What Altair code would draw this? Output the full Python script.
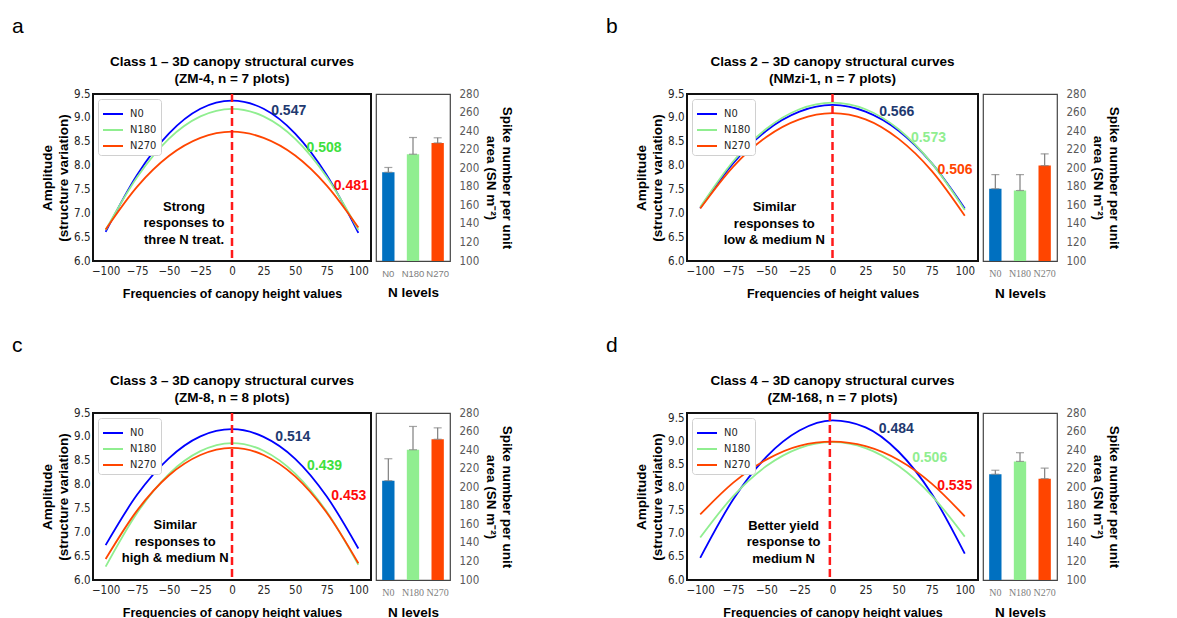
import altair as alt
import pandas as pd

# ---------------- data ----------------
X_POS = [-100, -75, -50, -25, 0, 25, 50, 75, 100]
SERIES = ["N0", "N180", "N270"]

A_N0 = [6.61, 7.81, 8.67, 9.19, 9.36, 9.19, 8.67, 7.80, 6.59]
A_N180 = [6.65, 7.76, 8.56, 9.03, 9.19, 9.03, 8.56, 7.76, 6.65]
A_N270 = [6.66, 7.56, 8.20, 8.58, 8.71, 8.58, 8.21, 7.58, 6.70]

B_N0 = [7.11, 8.05, 8.73, 9.13, 9.27, 9.13, 8.73, 8.05, 7.10]
B_N180 = [7.13, 8.09, 8.77, 9.18, 9.32, 9.18, 8.76, 8.05, 7.07]
B_N270 = [7.10, 7.98, 8.60, 8.97, 9.10, 8.97, 8.56, 7.89, 6.95]

C_N0 = [6.73, 7.79, 8.55, 9.01, 9.16, 9.00, 8.54, 7.75, 6.66]
C_N180 = [6.28, 7.41, 8.22, 8.70, 8.87, 8.71, 8.23, 7.43, 6.32]
C_N270 = [6.44, 7.46, 8.19, 8.62, 8.77, 8.62, 8.17, 7.41, 6.35]

D_N0 = [6.48, 7.75, 8.67, 9.24, 9.46, 9.31, 8.78, 7.87, 6.57]
D_N180 = [6.92, 7.82, 8.47, 8.86, 8.99, 8.86, 8.47, 7.83, 6.94]
D_N270 = [7.42, 8.11, 8.61, 8.91, 9.00, 8.90, 8.60, 8.09, 7.38]

# spike number per unit area (bar means and upper error)
BAR_A = [195.6, 215.1, 227.3]
ERR_A = [5.2, 18.0, 5.5]
BAR_B = [177.9, 176.0, 202.9]
ERR_B = [15.2, 17.1, 12.6]
BAR_C = [207.1, 240.4, 251.7]
ERR_C = [23.6, 25.1, 12.3]
BAR_D = [214.0, 227.8, 209.2]
ERR_D = [4.3, 9.4, 11.3]

# values printed on the curves
VAL_A = ["0.547", "0.508", "0.481"]
VAL_B = ["0.566", "0.573", "0.506"]
VAL_C = ["0.514", "0.439", "0.453"]
VAL_D = ["0.484", "0.506", "0.535"]
# label anchor points in data coordinates (x, amplitude)
VX_A, VY_A = [31, 59, 80.5], [9.15, 8.36, 7.58]
VX_B, VY_B = [35.3, 59.3, 79.4], [9.13, 8.58, 7.90]
VX_C, VY_C = [34.3, 59.4, 78.6], [9.00, 8.385, 7.77]
VX_D, VY_D = [35.0, 60.2, 79.1], [9.28, 8.65, 8.04]

NOTE_A = "Strong\nresponses to\nthree N treat."
NOTE_B = "Similar\nresponses to\nlow & medium N"
NOTE_C = "Similar\nresponses to\nhigh & medium N"
NOTE_D = "Better yield\nresponse to\nmedium N"
# first-line anchor of each note (x, amplitude)
NOTE_XY = {"a": (-38, 7.14), "b": (-44, 7.13), "c": (-45, 7.15), "d": (-37, 7.18)}

TITLES = {
    "a": "Class 1 \u2013 3D canopy structural curves\n(ZM-4, n = 7 plots)",
    "b": "Class 2 \u2013 3D canopy structural curves\n(NMzi-1, n = 7 plots)",
    "c": "Class 3 \u2013 3D canopy structural curves\n(ZM-8, n = 8 plots)",
    "d": "Class 4 \u2013 3D canopy structural curves\n(ZM-168, n = 7 plots)",
}
XTITLES = {
    "a": "Frequencies of canopy height values",
    "b": "Frequencies of height values",
    "c": "Frequencies of canopy height values",
    "d": "Frequencies of canopy height values",
}
PEAK_LINE = {"a": 0, "b": 0, "c": 0, "d": -2}
YDOM = {"a": [6.0, 9.5], "b": [6.0, 9.5], "c": [6.0, 9.5], "d": [6.0, 9.62]}

LINE_COLORS = ["#0000FF", "#90EE90", "#FF4500"]
BAR_COLORS = ["#0070C0", "#90EE90", "#FF4500"]
NAVY = "#1F3A70"
LABEL_COLORS = {
    "a": [NAVY, "#3EE03E", "#FF0A0A"],
    "b": [NAVY, "#90EE90", "#FF4500"],
    "c": [NAVY, "#3EE03E", "#FF0A0A"],
    "d": [NAVY, "#90EE90", "#FF0A0A"],
}

SANS = "Liberation Sans"
NARROW = "Liberation Sans Narrow, DejaVu Sans Condensed, Liberation Sans"
SERIF = "Liberation Serif"

Y_TICKS = [6.0, 6.5, 7.0, 7.5, 8.0, 8.5, 9.0, 9.5]
X_TICKS = [-100, -75, -50, -25, 0, 25, 50, 75, 100]
BAR_TICKS = list(range(100, 281, 20))


def line_panel(key, n0, n180, n270, vals, vx, vy, note, width):
    rows = []
    for name, ys in zip(SERIES, [n0, n180, n270]):
        for x, y in zip(X_POS, ys):
            rows.append({"x": x, "amp": y, "N": name})
    df = pd.DataFrame(rows)
    yscale = alt.Scale(domain=YDOM[key], nice=False, zero=False)
    xscale = alt.Scale(domain=[-110, 110], nice=False)
    xaxis = alt.Axis(
        values=X_TICKS, title=XTITLES[key], grid=False, domain=False, ticks=False,
        tickSize=0, labelPadding=4, labelFont=NARROW, labelFontSize=11.5,
        labelColor="#262626", titleFont=SANS, titleFontSize=12.5,
        titleFontWeight="bold", titleColor="black", titlePadding=11)
    yaxis = alt.Axis(
        values=Y_TICKS, format=".1f", title=["Amplitude", "(structure variation)"],
        grid=False, domain=False, ticks=False, tickSize=0, labelPadding=3,
        labelFont=NARROW, labelFontSize=11.5, labelColor="#262626",
        titleFont=SANS, titleFontSize=13.5, titleFontWeight="bold",
        titleColor="black", titlePadding=3, titleLineHeight=16)

    def X(f):
        return alt.X(f, scale=xscale, axis=xaxis)

    def Y(f):
        return alt.Y(f, scale=yscale, axis=yaxis)

    lines = alt.Chart(df).mark_line(strokeWidth=1.8, interpolate="monotone").encode(
        x=X("x:Q"),
        y=Y("amp:Q"),
        color=alt.Color("N:N", sort=SERIES,
                        scale=alt.Scale(domain=SERIES, range=LINE_COLORS),
                        legend=alt.Legend(
                            orient="top-left", title=None, offset=5, padding=4,
                            strokeColor="#d0d0d0", fillColor="white", cornerRadius=3,
                            symbolType="stroke", symbolSize=400, symbolStrokeWidth=2,
                            labelFont=NARROW, labelFontSize=11, labelColor="#262626",
                            labelOffset=6, rowPadding=-1)),
    )

    rule_df = pd.DataFrame({"x": [PEAK_LINE[key]]})
    rule = alt.Chart(rule_df).mark_rule(color="#FF1A1A", strokeWidth=2.5,
                                        strokeDash=[8, 4]).encode(x=X("x:Q"))

    vdf = pd.DataFrame({"t": vals, "x": vx, "amp": vy, "N": SERIES})
    vtext = alt.Chart(vdf).mark_text(align="left", baseline="middle", font=SANS,
                                     fontSize=14, fontWeight="bold").encode(
        x=X("x:Q"),
        y=Y("amp:Q"),
        text="t:N",
        fill=alt.Fill("N:N", scale=alt.Scale(domain=SERIES, range=LABEL_COLORS[key]),
                      legend=None),
    )

    nx, ny = NOTE_XY[key]
    ndf = pd.DataFrame({"t": [note], "x": [nx], "amp": [ny]})
    ntext = alt.Chart(ndf).mark_text(align="center", baseline="middle", font=SANS,
                                     fontSize=13, fontWeight="bold", lineBreak="\n",
                                     lineHeight=16.5, color="black").encode(
        x=X("x:Q"), y=Y("amp:Q"), text="t:N")

    tdf = pd.DataFrame({"t": [TITLES[key]]})
    title = alt.Chart(tdf).mark_text(align="center", baseline="middle", font=SANS,
                                     fontSize=13.5, fontWeight="bold", lineBreak="\n",
                                     lineHeight=17, color="black").encode(
        x=alt.value(width / 2), y=alt.value(-32), text="t:N")

    ldf = pd.DataFrame({"lab": [key]})
    letter = alt.Chart(ldf).mark_text(align="left", baseline="alphabetic", font=SANS,
                                      fontSize=21, color="black").encode(
        x=alt.value(-81), y=alt.value(-61), text="lab:N")

    return alt.layer(lines, rule, vtext, ntext, title, letter).properties(
        width=width, height=167,
        view=alt.ViewBackground(stroke="#111111", strokeWidth=2),
    )


def bar_panel(means, errs, serif_labels):
    df = pd.DataFrame({"N": SERIES, "sn": means,
                       "hi": [m + e for m, e in zip(means, errs)]})
    xaxis = alt.Axis(title="N levels", labelAngle=0, ticks=False, tickSize=0,
                     domain=False,
                     labelFont=SERIF if serif_labels else SANS,
                     labelFontSize=10 if serif_labels else 9.5,
                     labelColor="#808080", labelPadding=7,
                     titleFont=SANS, titleFontSize=13.5,
                     titleFontWeight="bold", titleColor="black", titlePadding=8)
    xscale = alt.Scale(paddingInner=0.5, paddingOuter=0.25)
    yscale = alt.Scale(domain=[100, 280], nice=False, zero=False)
    yaxis = alt.Axis(
        orient="right", values=BAR_TICKS, grid=False, ticks=False, tickSize=0,
        domain=False, labelFont=NARROW, labelFontSize=11.5, labelColor="#595959",
        labelPadding=9, title=["Spike number per unit", "area (SN m\u207b\u00b2)"],
        titleFont=SANS, titleFontSize=13.5, titleFontWeight="bold",
        titleColor="black", titlePadding=5, titleLineHeight=16)

    def X():
        return alt.X("N:N", sort=SERIES, scale=xscale, axis=xaxis)

    def Y(f):
        return alt.Y(f, scale=yscale, axis=yaxis)

    bars = alt.Chart(df).mark_bar().encode(
        x=X(),
        y=Y("sn:Q"),
        y2=alt.datum(100),
        fill=alt.Fill("N:N", scale=alt.Scale(domain=SERIES, range=BAR_COLORS),
                      legend=None),
    )
    err = alt.Chart(df).mark_rule(color="#7f7f7f", strokeWidth=1.2).encode(
        x=X(), y=Y("sn:Q"), y2="hi:Q")
    cap_hi = alt.Chart(df).mark_tick(color="#7f7f7f", size=8, thickness=1.2).encode(
        x=X(), y=Y("hi:Q"))
    cap_lo = alt.Chart(df).mark_tick(color="#7f7f7f", size=8, thickness=1.2).encode(
        x=X(), y=Y("sn:Q"))
    return alt.layer(bars, err, cap_hi, cap_lo).properties(
        width=74, height=167,
        view=alt.ViewBackground(stroke="#444444", strokeWidth=1.2),
    )


def spacer():
    return alt.Chart(pd.DataFrame({"v": [0]})).mark_point(opacity=0).encode(
        x=alt.X("v:Q", axis=None), y=alt.Y("v:Q", axis=None)
    ).properties(width=227, height=167,
                 view=alt.ViewBackground(stroke="transparent"))


la = line_panel("a", A_N0, A_N180, A_N270, VAL_A, VX_A, VY_A, NOTE_A, 278)
lb = line_panel("b", B_N0, B_N180, B_N270, VAL_B, VX_B, VY_B, NOTE_B, 291)
lc = line_panel("c", C_N0, C_N180, C_N270, VAL_C, VX_C, VY_C, NOTE_C, 278)
ld = line_panel("d", D_N0, D_N180, D_N270, VAL_D, VX_D, VY_D, NOTE_D, 291)

ba = bar_panel(BAR_A, ERR_A, False)
bb = bar_panel(BAR_B, ERR_B, True)
bc = bar_panel(BAR_C, ERR_C, True)
bd = bar_panel(BAR_D, ERR_D, True)

chart = alt.concat(
    la, ba, spacer(), lb, bb,
    lc, bc, spacer(), ld, bd,
    columns=5, spacing={"row": 152, "column": 5}, bounds="flush", align="each",
).resolve_scale(color="independent", fill="independent").resolve_legend(
    color="independent", fill="independent"
).properties(
    padding={"top": 7, "left": 3, "right": 5, "bottom": 5},
    background="white",
)

chart.save("out.html", embed_options={"renderer": "svg", "actions": False})
